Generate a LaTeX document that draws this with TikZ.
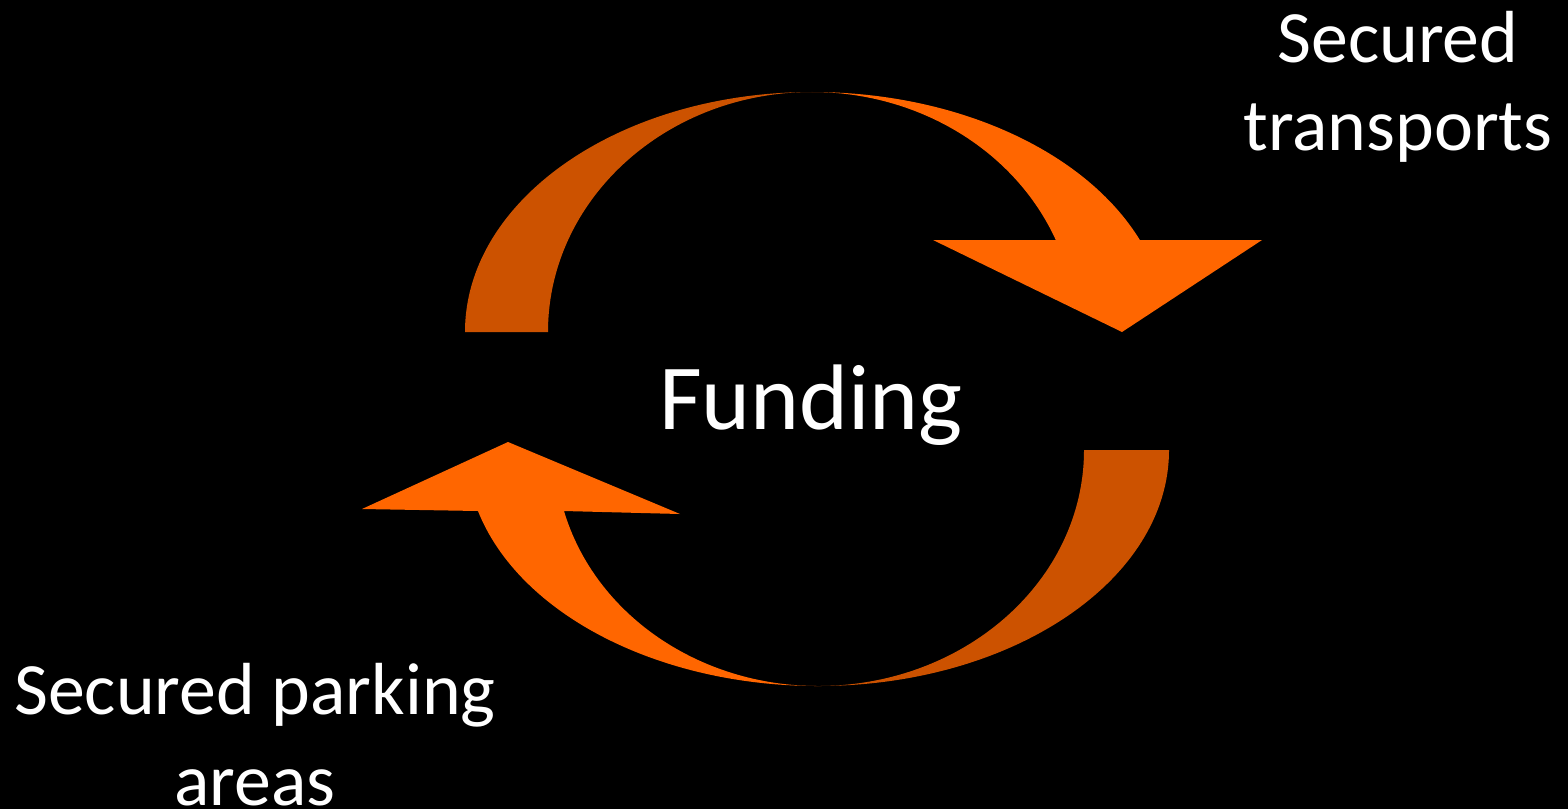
\documentclass[tikz,border=0pt]{standalone}
\usepackage{fontspec}
\setmainfont{Carlito}
\definecolor{darkor}{HTML}{CC5200}
\definecolor{lightor}{HTML}{FF6600}
\begin{document}
\begin{tikzpicture}[x=0.02cm,y=0.02cm,
  lbl/.style={text=white, align=center, inner sep=0pt},
  big/.style={text=white, font=\fontsize{53}{63}\selectfont, inner sep=0pt}]
\fill[black] (0,0) rectangle (1568,-809);
\useasboundingbox (0,0) rectangle (1568,-809);
% top circular arrow
\fill[darkor] (465,-332) arc[start angle=180,end angle=90,x radius=347,y radius=240]
  arc[start angle=90,end angle=180,x radius=264,y radius=240] -- cycle;
\fill[lightor] (812,-92) arc[start angle=90,end angle=22.54,x radius=355,y radius=240]
  -- (1262,-240) -- (1122,-332) -- (933,-240) -- (1055.8,-240)
  arc[start angle=22.54,end angle=90,x radius=264,y radius=240] -- cycle;
% bottom circular arrow
\fill[darkor] (1169,-450) arc[start angle=0,end angle=-90,x radius=351,y radius=236]
  arc[start angle=-90,end angle=0,x radius=266,y radius=236] -- cycle;
\fill[lightor] (818,-686) arc[start angle=270,end angle=194.98,x radius=352,y radius=236]
  -- (362,-509) -- (508,-442) -- (680,-514) -- (564,-511)
  arc[start angle=194.98,end angle=270,x radius=263,y radius=236] -- cycle;
% labels
\node[lbl, font=\fontsize{42}{50}\selectfont, anchor=base] (transports) at (1398,-150) {Secured\\transports};
\node[lbl, font=\fontsize{42}{51.5}\selectfont, anchor=base] (parking) at (255,-805) {Secured parking\\areas};
\node[big, anchor=base] (funding) at (811,-429) {Funding};
\end{tikzpicture}
\end{document}
